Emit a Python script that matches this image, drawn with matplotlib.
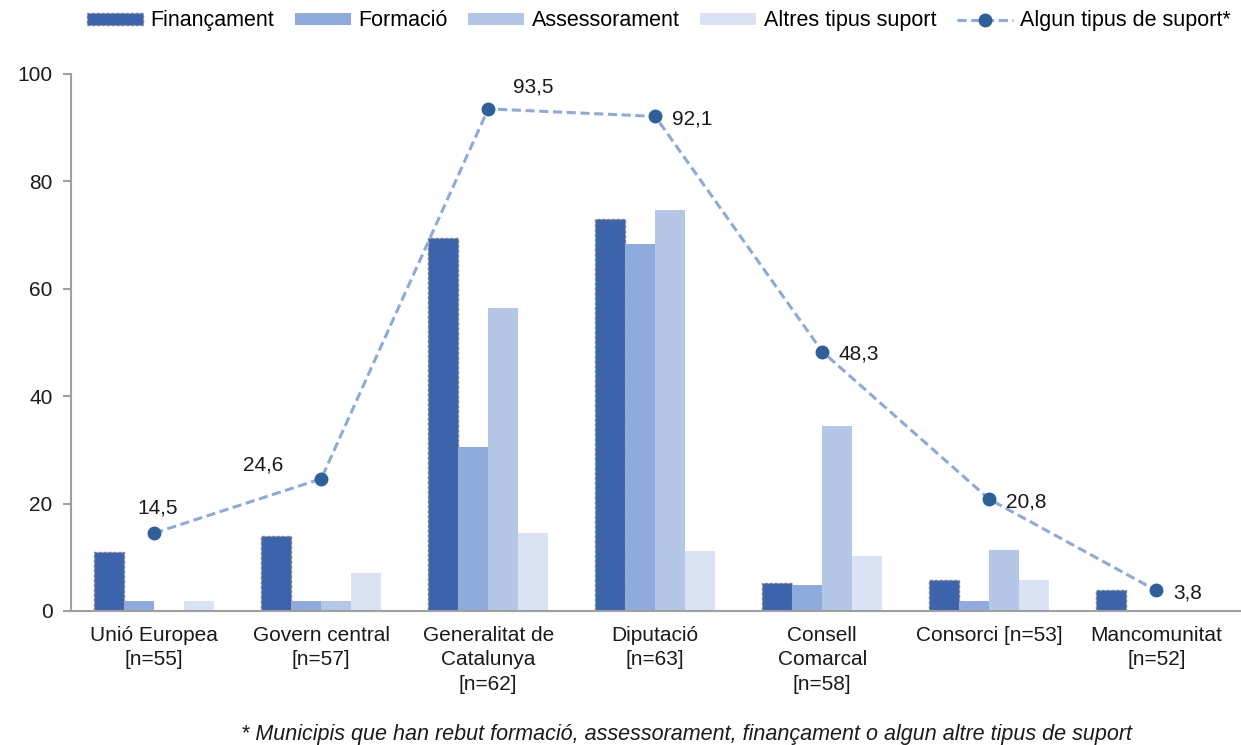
import numpy as np
import matplotlib.pyplot as plt
from matplotlib.patches import Patch
from matplotlib.lines import Line2D

plt.rcParams['font.family'] = ['Liberation Sans', 'DejaVu Sans']

categories = ['Unió Europea\n[n=55]', 'Govern central\n[n=57]', 'Generalitat de\nCatalunya\n[n=62]',
              'Diputació\n[n=63]', 'Consell\nComarcal\n[n=58]', 'Consorci [n=53]', 'Mancomunitat\n[n=52]']
financament = [10.9, 14.0, 69.4, 73.0, 5.2, 5.7, 3.8]
formacio = [1.8, 1.8, 30.6, 68.3, 4.8, 1.9, 0.0]
assessorament = [0.0, 1.8, 56.5, 74.6, 34.5, 11.3, 0.0]
altres = [1.8, 7.0, 14.5, 11.1, 10.3, 5.7, 0.0]
algun = [14.5, 24.6, 93.5, 92.1, 48.3, 20.8, 3.8]

series_names = ['Finançament', 'Formació', 'Assessorament', 'Altres tipus suport']
colors = ['#3B64AD', '#8FAADC', '#B4C7E7', '#DAE3F3']
line_color = '#8EAADB'
marker_color = '#2F5F98'

# label offsets in points (dx, dy) for the line values
label_offsets = [(-12, 18), (-56, 10), (18, 16), (12, -2), (12, -2), (12, -2), (12, -2)]

fig = plt.figure(figsize=(12.41, 7.45), dpi=100)
ax = fig.add_axes([0.057, 0.18, 0.942, 0.7207])

x = np.arange(len(categories))
w = 0.18
data = [financament, formacio, assessorament, altres]
for i, vals in enumerate(data):
    pos = x + (i - 1.5) * w
    if i == 0:
        ax.bar(pos, vals, w, color=colors[i], edgecolor='#7F7F7F', linestyle=(0, (2, 1.5)),
               linewidth=1.0, zorder=2)
    else:
        ax.bar(pos, vals, w, color=colors[i], edgecolor='none', zorder=2)

ax.plot(x, algun, linestyle=(0, (3, 1.5)), color=line_color, linewidth=2.2, zorder=3)
ax.plot(x, algun, 'o', color=marker_color, markersize=9, zorder=4)
for xi, v, off in zip(x, algun, label_offsets):
    ax.annotate(f'{v:.1f}'.replace('.', ','), (xi, v), xytext=off, textcoords='offset points',
                ha='left', va='center', fontsize=15, color='#1a1a1a')

ax.set_xlim(-0.5, len(categories) - 0.5)
ax.set_ylim(0, 100)
ax.set_yticks(range(0, 101, 20))
ax.set_xticks(x)
ax.set_xticklabels(categories, fontsize=15, color='#1a1a1a', linespacing=1.35)
ax.tick_params(axis='x', length=0, pad=11)
ax.tick_params(axis='y', labelsize=15, labelcolor='#1a1a1a', color='#A0A0A0', length=6, width=1.5, pad=7)
for s in ['top', 'right']:
    ax.spines[s].set_visible(False)
for s in ['left', 'bottom']:
    ax.spines[s].set_color('#A0A0A0')
    ax.spines[s].set_linewidth(1.5)

handles = [Patch(facecolor=colors[0], edgecolor='#7F7F7F', linestyle=(0, (2, 1.5)), linewidth=1.0)]
handles += [Patch(facecolor=c, edgecolor='none') for c in colors[1:]]
handles.append(Line2D([], [], color=line_color, linestyle=(0, (3, 1.5)), linewidth=2.2,
                      marker='o', markerfacecolor=marker_color, markeredgecolor=marker_color, markersize=9))
fig.legend(handles, series_names + ['Algun tipus de suport*'], loc='upper center', ncol=5,
           bbox_to_anchor=(0.531, 1.012), frameon=False, fontsize=15.5, handlelength=2.6,
           handleheight=0.5, columnspacing=0.95, handletextpad=0.35)

fig.text(0.553, 0.0, '* Municipis que han rebut formació, assessorament, finançament o algun altre tipus de suport',
         ha='center', va='bottom', fontsize=15.5, style='italic', color='#1a1a1a')

fig.savefig('out.png', dpi=100)
